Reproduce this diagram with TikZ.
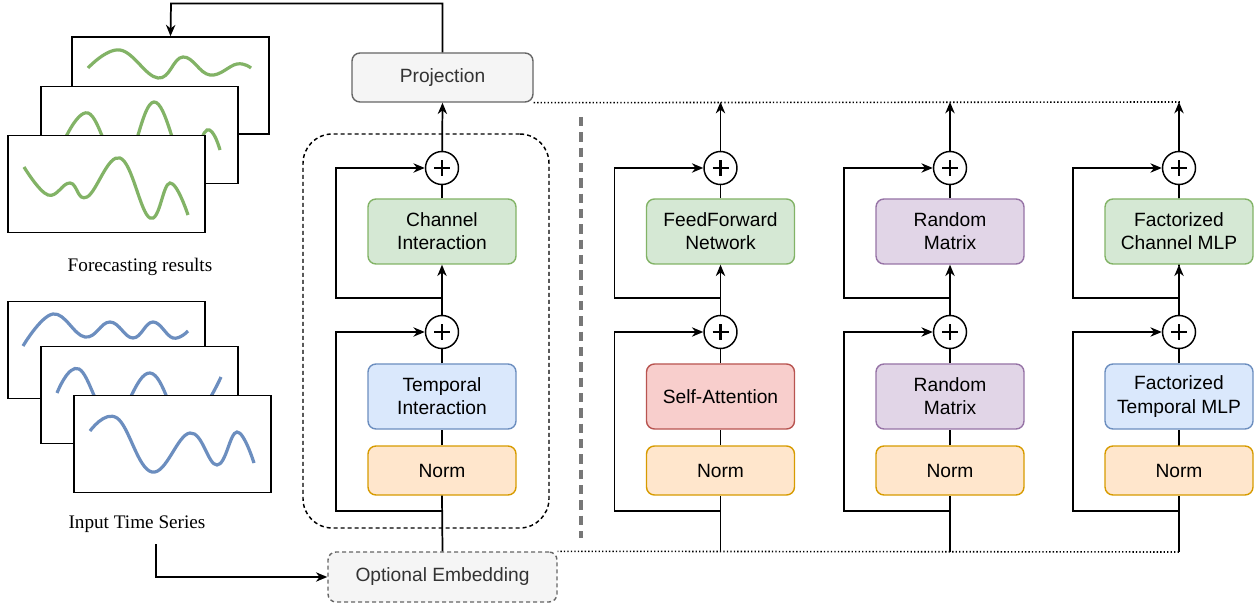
\documentclass[tikz,border=0pt]{standalone}
\usepackage{fontspec}
\setmainfont{Liberation Serif}
\newfontfamily\arialf{Liberation Sans}
\usetikzlibrary{arrows.meta}
\definecolor{gfill}{HTML}{D5E8D4}\definecolor{gdraw}{HTML}{82B366}
\definecolor{bfill}{HTML}{DAE8FC}\definecolor{bdraw}{HTML}{6C8EBF}
\definecolor{ofill}{HTML}{FFE6CC}\definecolor{odraw}{HTML}{D79B00}
\definecolor{rfill}{HTML}{F8CECC}\definecolor{rdraw}{HTML}{B85450}
\definecolor{pfill}{HTML}{E1D5E7}\definecolor{pdraw}{HTML}{9673A6}
\definecolor{grfill}{HTML}{F5F5F5}\definecolor{grdraw}{HTML}{666666}\definecolor{grtext}{HTML}{333333}
\definecolor{sepgray}{HTML}{777777}
\tikzset{
  blk/.style={rectangle, rounded corners=6pt, minimum width=111pt, minimum height=48.75pt, align=center, line width=1.05pt, inner sep=1pt, font=\arialf\fontsize{14.4}{17.4}\selectfont},
  greenb/.style={blk, fill=gfill, draw=gdraw},
  blueb/.style={blk, fill=bfill, draw=bdraw},
  redb/.style={blk, fill=rfill, draw=rdraw},
  purpleb/.style={blk, fill=pfill, draw=pdraw},
  normb/.style={blk, fill=ofill, draw=odraw, minimum height=36.75pt},
  grayb/.style={blk, fill=grfill, draw=grdraw, text=grtext, minimum height=36.75pt},
  plusc/.style={circle, draw, fill=white, line width=1.1pt, minimum size=24.75pt, inner sep=0pt,
    path picture={\draw[line width=2.1pt] ([xshift=-6pt]path picture bounding box.center) -- ([xshift=6pt]path picture bounding box.center);
                  \draw[line width=2.1pt] ([yshift=-6pt]path picture bounding box.center) -- ([yshift=6pt]path picture bounding box.center);}},
  conn/.style={line width=1.3pt},
  arr/.style={conn, -{Stealth[length=8.5pt,width=7pt,inset=2.7pt]}},
  frame/.style={rectangle, draw, fill=white, line width=1.2pt, minimum width=147.75pt, minimum height=72.75pt, inner sep=0pt},
  gcurve/.style={draw=gdraw, line width=2.4pt},
  bcurve/.style={draw=bdraw, line width=2.4pt},
  serif/.style={font=\fontsize{14.4}{17}\selectfont},
  dotl/.style={line width=1.2pt, dash pattern=on 1pt off 1.6pt},
}
\begin{document}
\begin{tikzpicture}[x=0.75pt,y=-0.75pt]
\useasboundingbox (0,0) rectangle (1256,609);

% forecasting stack
\node[frame] (fa) at (170.5,85.5) {};
\draw[gcurve] plot[smooth, tension=0.7] coordinates {(88,68) (120,50) (158,78) (183,57) (210,75) (237,64) (251,68)};
\node[frame] (fb) at (139.5,135) {};
\draw[gcurve] plot[smooth, tension=0.7] coordinates {(60,150) (88,113) (122,168) (154,102) (185,165) (207,130) (220,150)};
\node[frame] (fc) at (106.5,184) {};
\draw[gcurve] plot[smooth, tension=0.7] coordinates {(24,167) (48,195) (70,183) (87,197) (120,158) (150,218) (170,183) (188,215)};
\node[serif] (flabel) at (140,267) {Forecasting results};

% input stack
\node[frame] (ia) at (106.5,350) {};
\draw[bcurve] plot[smooth, tension=0.7] coordinates {(23,346) (53,314) (85,337) (110,322) (133,338) (153,322) (173,338) (188,331)};
\node[frame] (ib) at (139.5,395) {};
\draw[bcurve] plot[smooth, tension=0.7] coordinates {(57,393) (79,369) (112,420) (150,373) (185,425) (221,377)};
\node[frame] (ic) at (172.5,444) {};
\draw[bcurve] plot[smooth, tension=0.7] coordinates {(90,431) (117,418) (152,472) (190,433) (217,465) (237,432) (254,463)};
\node[serif] (ilabel) at (137,524) {Input Time Series};
\coordinate (istart) at (156,544);

% projection & embedding
\node[grayb, minimum width=135.75pt] (proj) at (442.5,77.5) {Projection};
\node[grayb, minimum width=171.75pt, minimum height=37.5pt, dash pattern=on 3pt off 2.25pt] (emb) at (442.5,577) {Optional Embedding};

% dashed module box and separator
\node[rectangle, draw, dash pattern=on 3pt off 2.25pt, line width=1.1pt, rounded corners=22pt, minimum width=184.5pt, minimum height=295.5pt] (module) at (426,331) {};
\draw[draw=sepgray, line width=2.6pt, dash pattern=on 7pt off 4.5pt] (581,117) -- (581,538);

% dotted frame
\coordinate (dtr) at (1179,102);
\coordinate (dbr) at (1179,552);
\draw[dotl] (proj.south east) -- (dtr) -- (dbr) -- (emb.north east);

% column blocks
\node[greenb] (up1) at (442,231.5) {Channel\\Interaction};
\node[blueb] (mid1) at (442,396.5) {Temporal\\Interaction};
\node[greenb] (up2) at (720.5,231.5) {FeedForward\\Network};
\node[redb] (mid2) at (720.5,396.5) {Self-Attention};
\node[purpleb] (up3) at (950,231.5) {Random\\Matrix};
\node[purpleb] (mid3) at (950,396.5) {Random\\Matrix};
\node[greenb] (up4) at (1179,231.5) {Factorized\\Channel MLP};
\node[blueb] (mid4) at (1179,396.5) {Factorized\\Temporal MLP};
\foreach \i/\x in {1/442,2/720.5,3/950,4/1179}{
  \node[normb] (nm\i) at (\x,470.5) {Norm};
  \node[plusc] (pu\i) at (\x,168) {};
  \node[plusc] (pl\i) at (\x,332) {};
  \coordinate (sa\i) at (\x,298);
  \coordinate (sb\i) at (\x,511);
}
\coordinate (b1) at (emb.north);
\coordinate (t1) at (proj.south);
\coordinate (b2) at (720.5,552);\coordinate (t2) at (720.5,102);
\coordinate (b3) at (950,552);\coordinate (t3) at (950,102);
\coordinate (b4) at (1179,552);\coordinate (t4) at (1179,102);
\foreach \i in {1,2,3,4}{
  \draw[conn] (b\i) -- (nm\i.south);
  \draw[conn] (nm\i) -- (mid\i);
  \draw[conn] (mid\i) -- (pl\i);
  \draw[arr] (pl\i) -- (up\i);
  \draw[conn] (up\i) -- (pu\i);
  \draw[arr] (pu\i) -- (t\i);
  \draw[arr] (sb\i) -- ++(-106,0) |- (pl\i);
  \draw[arr] (sa\i) -- ++(-106,0) |- (pu\i);
}

% outer arrows
\coordinate (topc) at (171,3.5);
\draw[arr] (proj.north) |- (topc) -- (fa.north);
\coordinate (ecorner) at (156,577);
\draw[arr] (istart) -- (ecorner) -- (emb.west);
\end{tikzpicture}
\end{document}
